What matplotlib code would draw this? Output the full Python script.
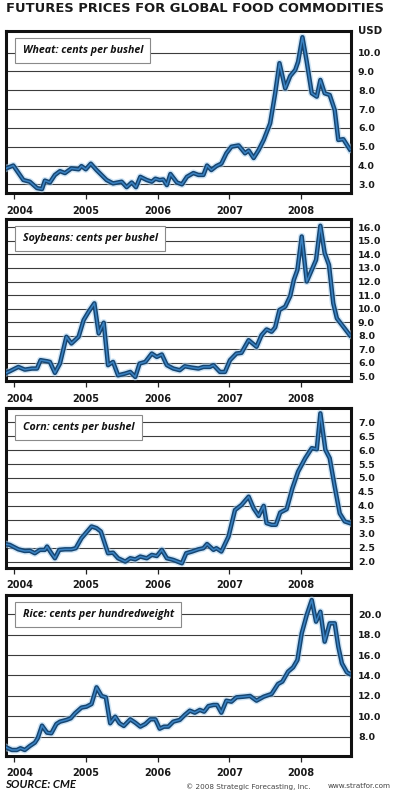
import matplotlib
matplotlib.use("Agg")
import matplotlib.pyplot as plt
import matplotlib.patheffects as pe
from matplotlib.transforms import ScaledTranslation

# -----------------------------------------------------
# DATA (decimal years / USD)
# -----------------------------------------------------
years = [2004, 2005, 2006, 2007, 2008]

wheat_x = [2003.89, 2003.99, 2004.13, 2004.22, 2004.32, 2004.39, 2004.43, 2004.50, 2004.57, 2004.64,
           2004.71, 2004.80, 2004.90, 2004.94, 2005.00, 2005.07, 2005.15, 2005.29, 2005.38, 2005.50,
           2005.57, 2005.64, 2005.70, 2005.76, 2005.85, 2005.92, 2005.97, 2006.03, 2006.08, 2006.13,
           2006.18, 2006.27, 2006.34, 2006.41, 2006.50, 2006.57, 2006.64, 2006.69, 2006.75, 2006.82,
           2006.89, 2006.96, 2007.03, 2007.13, 2007.22, 2007.27, 2007.34, 2007.41, 2007.48, 2007.57,
           2007.64, 2007.70, 2007.78, 2007.85, 2007.92, 2007.96, 2008.02, 2008.08, 2008.15, 2008.22,
           2008.27, 2008.33, 2008.40, 2008.47, 2008.52, 2008.59, 2008.68]
wheat_y = [3.85, 4.00, 3.23, 3.14, 2.80, 2.75, 3.20, 3.10, 3.50, 3.70,
           3.60, 3.85, 3.80, 3.97, 3.80, 4.10, 3.76, 3.23, 3.05, 3.14,
           2.85, 3.10, 2.85, 3.40, 3.23, 3.14, 3.30, 3.23, 3.26, 2.96,
           3.55, 3.10, 3.00, 3.40, 3.60, 3.50, 3.50, 4.00, 3.76, 3.97,
           4.10, 4.65, 5.00, 5.07, 4.65, 4.80, 4.40, 4.83, 5.36, 6.24,
           7.84, 9.44, 8.10, 8.76, 9.08, 9.52, 10.82, 9.52, 7.84, 7.66,
           8.55, 7.84, 7.75, 6.95, 5.36, 5.40, 4.86]

soy_x = [2003.89, 2003.94, 2004.06, 2004.15, 2004.25, 2004.32, 2004.37, 2004.46, 2004.50, 2004.57,
         2004.64, 2004.73, 2004.80, 2004.90, 2004.97, 2005.04, 2005.12, 2005.18, 2005.25, 2005.31,
         2005.38, 2005.45, 2005.55, 2005.62, 2005.69, 2005.75, 2005.83, 2005.92, 2005.99, 2006.06,
         2006.13, 2006.22, 2006.31, 2006.38, 2006.48, 2006.57, 2006.64, 2006.73, 2006.78, 2006.87,
         2006.94, 2007.01, 2007.10, 2007.17, 2007.27, 2007.38, 2007.45, 2007.52, 2007.59, 2007.64,
         2007.70, 2007.78, 2007.85, 2007.90, 2007.95, 2008.01, 2008.08, 2008.15, 2008.21, 2008.27,
         2008.33, 2008.39, 2008.45, 2008.50, 2008.59, 2008.68]
soy_y = [5.25, 5.37, 5.69, 5.49, 5.57, 5.57, 6.19, 6.11, 6.06, 5.25,
         5.94, 7.92, 7.42, 7.92, 9.15, 9.77, 10.39, 8.16, 8.96, 5.82,
         6.06, 5.07, 5.20, 5.32, 4.95, 5.94, 6.06, 6.68, 6.43, 6.61,
         5.82, 5.57, 5.45, 5.74, 5.64, 5.57, 5.69, 5.69, 5.82, 5.32,
         5.32, 6.19, 6.68, 6.73, 7.67, 7.18, 8.04, 8.46, 8.29, 8.61,
         9.90, 10.14, 10.93, 12.12, 12.86, 15.33, 12.00, 12.86, 13.60, 16.12,
         14.10, 13.23, 10.39, 9.28, 8.66, 8.04]

corn_x = [2003.89, 2003.94, 2004.06, 2004.15, 2004.22, 2004.29, 2004.36, 2004.43, 2004.46, 2004.52,
          2004.57, 2004.63, 2004.71, 2004.80, 2004.86, 2004.94, 2005.02, 2005.08, 2005.15, 2005.21,
          2005.31, 2005.38, 2005.45, 2005.55, 2005.62, 2005.69, 2005.76, 2005.85, 2005.92, 2005.99,
          2006.06, 2006.13, 2006.22, 2006.34, 2006.40, 2006.48, 2006.57, 2006.64, 2006.69, 2006.78,
          2006.82, 2006.89, 2006.99, 2007.08, 2007.17, 2007.27, 2007.34, 2007.41, 2007.48, 2007.52,
          2007.59, 2007.65, 2007.71, 2007.80, 2007.88, 2007.96, 2008.06, 2008.15, 2008.22, 2008.27,
          2008.34, 2008.40, 2008.47, 2008.54, 2008.61, 2008.68]
corn_y = [2.62, 2.60, 2.44, 2.38, 2.39, 2.30, 2.42, 2.42, 2.54, 2.30,
          2.12, 2.42, 2.44, 2.44, 2.48, 2.84, 3.08, 3.26, 3.20, 3.08,
          2.30, 2.32, 2.12, 2.00, 2.12, 2.08, 2.18, 2.12, 2.24, 2.20,
          2.42, 2.12, 2.06, 1.94, 2.30, 2.36, 2.44, 2.48, 2.63, 2.42,
          2.48, 2.36, 2.90, 3.85, 4.03, 4.33, 3.91, 3.64, 4.00, 3.38,
          3.32, 3.32, 3.76, 3.88, 4.63, 5.23, 5.71, 6.07, 6.03, 7.32,
          6.01, 5.71, 4.69, 3.73, 3.44, 3.38]

rice_x = [2003.89, 2003.97, 2004.04, 2004.09, 2004.15, 2004.22, 2004.29, 2004.33, 2004.39, 2004.46,
          2004.52, 2004.59, 2004.64, 2004.73, 2004.79, 2004.85, 2004.94, 2005.01, 2005.08, 2005.15,
          2005.22, 2005.28, 2005.34, 2005.41, 2005.47, 2005.53, 2005.62, 2005.69, 2005.76, 2005.83,
          2005.90, 2005.97, 2006.03, 2006.09, 2006.15, 2006.22, 2006.31, 2006.38, 2006.45, 2006.52,
          2006.59, 2006.65, 2006.71, 2006.78, 2006.83, 2006.89, 2006.96, 2007.03, 2007.10, 2007.20,
          2007.29, 2007.38, 2007.48, 2007.59, 2007.68, 2007.74, 2007.82, 2007.89, 2007.95, 2008.01,
          2008.08, 2008.15, 2008.21, 2008.27, 2008.33, 2008.40, 2008.47, 2008.52, 2008.57, 2008.64,
          2008.68]
rice_y = [6.95, 6.69, 6.69, 6.86, 6.69, 7.08, 7.41, 7.84, 9.08, 8.39,
          8.33, 9.24, 9.47, 9.64, 9.80, 10.29, 10.85, 10.94, 11.20, 12.84,
          11.99, 11.86, 9.31, 9.96, 9.31, 9.05, 9.70, 9.37, 8.98, 9.24,
          9.70, 9.70, 8.78, 8.98, 8.98, 9.47, 9.64, 10.13, 10.55, 10.35,
          10.62, 10.45, 11.00, 11.11, 11.11, 10.35, 11.53, 11.43, 11.86, 11.92,
          11.99, 11.53, 11.92, 12.19, 13.17, 13.40, 14.38, 14.80, 15.52, 18.14,
          19.94, 21.41, 19.28, 20.26, 17.32, 19.12, 19.12, 16.83, 15.19, 14.31,
          14.15]

panels = [
    ("Wheat: cents per bushel", wheat_x, wheat_y, (2.54, 11.15), [3, 4, 5, 6, 7, 8, 9, 10]),
    ("Soybeans: cents per bushel", soy_x, soy_y, (4.65, 16.62), list(range(5, 17))),
    ("Corn: cents per bushel", corn_x, corn_y, (1.77, 7.51), [2.0, 2.5, 3.0, 3.5, 4.0, 4.5, 5.0, 5.5, 6.0, 6.5, 7.0]),
    ("Rice: cents per hundredweight", rice_x, rice_y, (6.1, 21.9), [8, 10, 12, 14, 16, 18, 20]),
]

# pixel boxes (top, bottom) of each panel in the 395x794 picture
W, H = 395, 794
boxes = [(31, 193), (219, 381), (408, 568), (595, 756)]
left_px, right_px = 6, 351

# -----------------------------------------------------
# FIGURE
# -----------------------------------------------------
fig = plt.figure(figsize=(W / 100, H / 100), dpi=100)
fig.patch.set_facecolor("white")

fig.text(6 / W, 1 - 9 / H, "FUTURES PRICES FOR GLOBAL FOOD COMMODITIES",
         ha="left", va="center", fontsize=9.4, fontweight="bold", color="#1a1a1a",
         family="DejaVu Sans")

line_fx = [
    pe.Stroke(linewidth=5.2, foreground="#a8d0f0", alpha=0.55),
    pe.Stroke(linewidth=3.2, foreground="#164571"),
    pe.Normal(),
]

for i, (label, xs, ys, ylim, yticks) in enumerate(panels):
    top, bot = boxes[i]
    ax = fig.add_axes([left_px / W, 1 - bot / H, (right_px - left_px) / W, (bot - top) / H])

    ax.plot(xs, ys, color="#3a82c2", linewidth=1.1, solid_joinstyle="round",
            path_effects=line_fx, zorder=3)

    ax.set_xlim(2003.888, 2008.697)
    ax.set_ylim(*ylim)
    ax.set_xticks(years)
    ax.set_xticklabels([str(y) for y in years])
    ax.set_yticks(yticks)
    ax.set_yticklabels([f"{v:.1f}" for v in yticks])
    ax.yaxis.tick_right()

    ax.grid(True, axis="y", color="#3c3c3c", linewidth=0.8)
    ax.set_axisbelow(True)
    for s in ax.spines.values():
        s.set_linewidth(2.2)
        s.set_color("#111111")

    ax.tick_params(axis="x", direction="out", length=4.5, width=0.9, color="#222222",
                   pad=4.5, labelsize=7, labelcolor="#1a1a1a")
    ax.tick_params(axis="y", length=0, pad=5, labelsize=6.8, labelcolor="#1a1a1a")
    for t in ax.get_xticklabels() + ax.get_yticklabels():
        t.set_fontweight("bold")
    # first year label is pushed right to stay inside the picture
    first = ax.get_xticklabels()[0]
    first.set_transform(first.get_transform() + ScaledTranslation(6 / 100, 0, fig.dpi_scale_trans))

    ax.text(0.048, 1 - 19.5 / (bot - top), label, transform=ax.transAxes,
            ha="left", va="center", fontsize=7.7, fontweight="bold", fontstyle="italic",
            family="Open Sans", color="#111111", zorder=5,
            bbox=dict(boxstyle="square,pad=0.7", fc="white", ec="#8a8a8a", lw=0.8))

fig.text(358 / W, 1 - 30.5 / H, "USD", ha="left", va="center", fontsize=7.4,
         fontweight="bold", color="#1a1a1a")

# -----------------------------------------------------
# FOOTER
# -----------------------------------------------------
fig.text(5 / W, 1 - 784 / H, "SOURCE: CME", ha="left", va="center", fontsize=8.2,
         fontweight="bold", fontstyle="italic", family="Lato", color="#111111")
fig.text(310 / W, 1 - 786.5 / H, "\u00a9 2008 Strategic Forecasting, Inc.", ha="right", va="center",
         fontsize=5.2, color="#444444")
fig.text(391 / W, 1 - 786.5 / H, "www.stratfor.com", ha="right", va="center",
         fontsize=5.2, color="#444444")

fig.savefig("out.png", dpi=100)
